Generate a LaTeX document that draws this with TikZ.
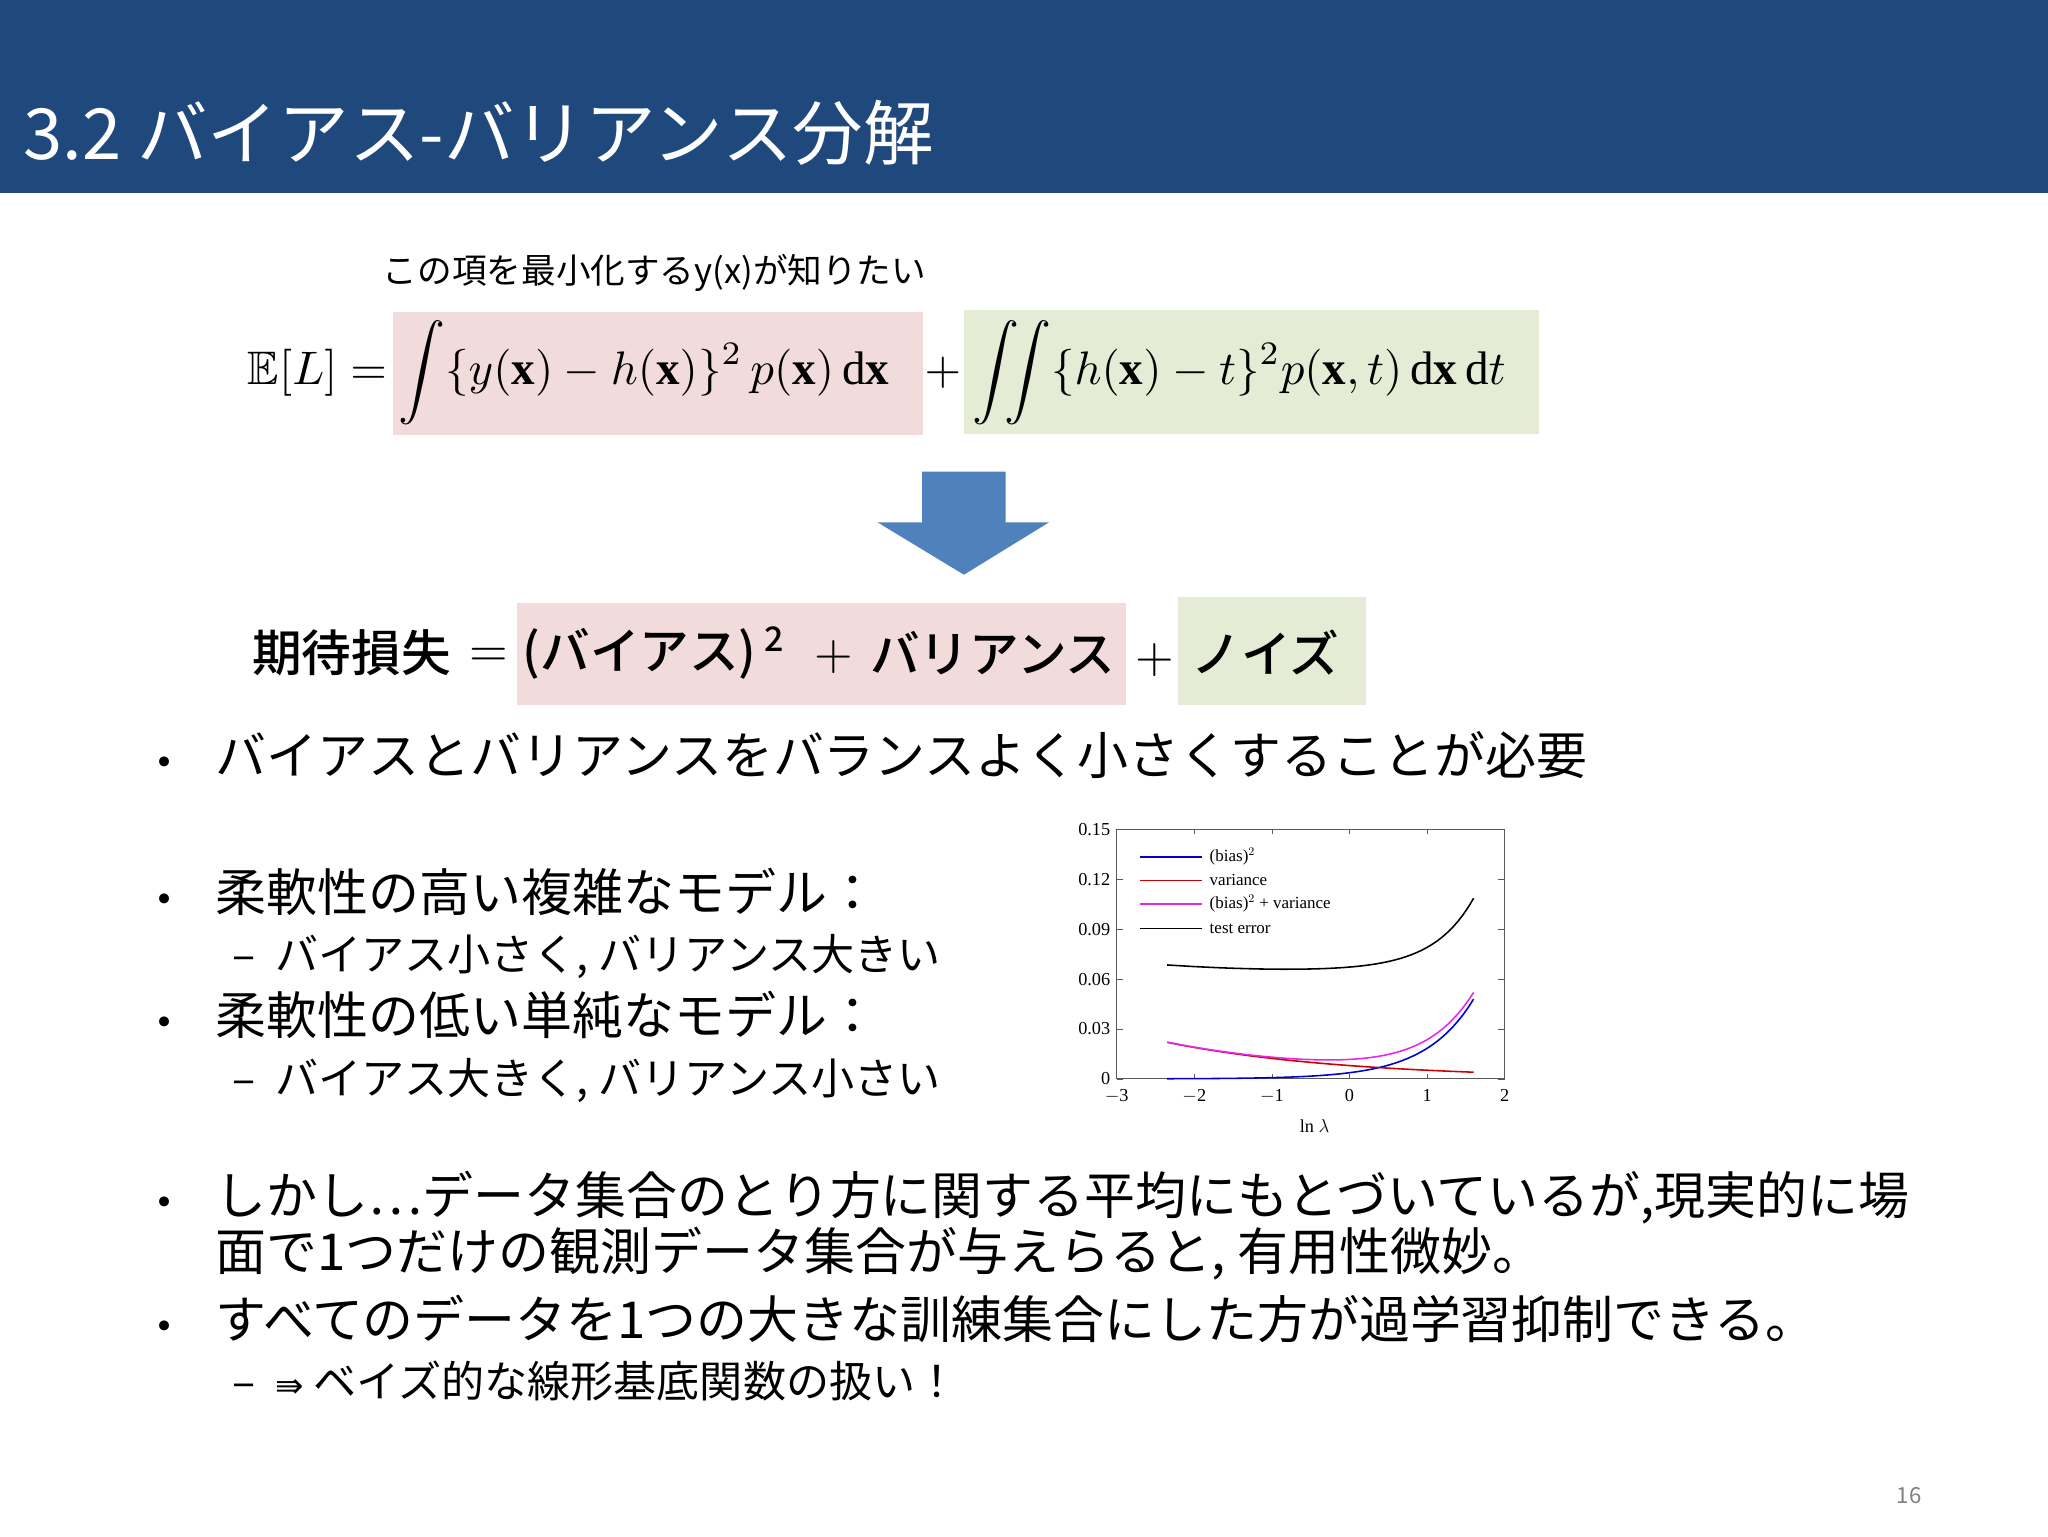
\documentclass[tikz,border=0pt]{standalone}
\usepackage{amsmath,amssymb}
\usepackage{fontspec}
\setmainfont{Liberation Serif}
\newfontfamily\jp{Noto Sans CJK JP}
\newfontfamily\jpb{Noto Sans CJK JP Medium}
\newfontfamily\tms{Liberation Serif}
\newfontfamily\dvs{DejaVu Sans}
\definecolor{titlebar}{RGB}{31,73,125}
\definecolor{pinkbox}{RGB}{242,220,219}
\definecolor{greenbox}{RGB}{228,236,214}
\definecolor{arrowblue}{RGB}{79,129,189}
\definecolor{mag}{RGB}{230,40,230}
\begin{document}
\begin{tikzpicture}[x=1pt,y=-1pt,
  body/.style={anchor=base west,inner sep=0pt,font=\jp\fontsize{39}{44}\selectfont},
  sub/.style={anchor=base west,inner sep=0pt,font=\jp\fontsize{33}{36}\selectfont},
  bul/.style={anchor=base west,inner sep=0pt,font=\dvs\fontsize{26}{36}\selectfont},
  mth/.style={inner sep=0pt,scale=3.6,transform shape},
  mth2/.style={inner sep=0pt,scale=3.8,transform shape},
  tick/.style={inner sep=0pt,font=\tms\fontsize{14}{16}\selectfont},
  leg/.style={anchor=west,inner sep=0pt,font=\tms\fontsize{13}{15}\selectfont}]
\useasboundingbox (0,0) rectangle (1568,1176);
\fill[white] (0,0) rectangle (1568,1176);
\fill[titlebar] (0,0) rectangle (1568,148);
\node[anchor=base west,inner sep=0pt,text=white,font=\jp\fontsize{54}{58}\selectfont] (title) at (18,122) {3.2 バイアス-バリアンス分解};
\node[anchor=base west,inner sep=0pt,font=\jp\fontsize{26.5}{28}\selectfont] (note) at (293,217) {この項を最小化するy(x)が知りたい};
\fill[pinkbox] (301,239) rectangle (707,333);
\fill[greenbox] (738,237) rectangle (1178,332);
\node[mth,anchor=east] (el) at (297,285) {$\mathbb{E}[L] =$};
\node[mth,anchor=west] (t1) at (304,285) {$\displaystyle\int \{y(\mathbf{x})-h(\mathbf{x})\}^2\,p(\mathbf{x})\,\mathrm{d}\mathbf{x}$};
\node[mth] (plus) at (722,285) {$+$};
\node[mth,anchor=west] (t2) at (744,285) {$\displaystyle\iint \{h(\mathbf{x})-t\}^2p(\mathbf{x},t)\,\mathrm{d}\mathbf{x}\,\mathrm{d}t$};
\fill[arrowblue] (706,361) -- (770,361) -- (770,400) -- (803,400) -- (738,440) -- (672,400) -- (706,400) -- cycle;
\coordinate (arr) at (738,400);
\fill[pinkbox] (396,462) rectangle (862,540);
\fill[greenbox] (902,457) rectangle (1046,540);
\node[anchor=west,inner sep=0pt,font=\jpb\fontsize{38}{44}\selectfont] (r2a) at (193,500) {期待損失};
\node[mth2] (r2eq) at (374,503) {$=$};
\node[anchor=west,inner sep=0pt,font=\jpb\fontsize{38}{44}\selectfont] (r2b) at (400,500) {(バイアス)\,\raisebox{14pt}{\fontsize{26}{28}\selectfont 2}};
\node[mth2] (r2p1) at (638,503) {$+$};
\node[anchor=west,inner sep=0pt,font=\jpb\fontsize{38}{44}\selectfont] (r2c) at (666,500) {バリアンス};
\node[mth2] (r2p) at (884,505) {$+$};
\node[anchor=west,inner sep=0pt,font=\jpb\fontsize{38}{44}\selectfont] (r2d) at (912,500) {ノイズ};
\foreach \y in {593,698,792,930,1025} \node[bul] at (118,\y) {•};
\node[body] (b1) at (165,593) {バイアスとバリアンスをバランスよく小さくすることが必要};
\node[body] (b2) at (165,698) {柔軟性の高い複雑なモデル：};
\node[sub] (s1) at (178,743) {–\ \ バイアス小さく, バリアンス大きい};
\node[body] (b3) at (165,792) {柔軟性の低い単純なモデル：};
\node[sub] (s2) at (178,838) {–\ \ バイアス大きく, バリアンス小さい};
\node[body] (b4) at (165,930) {しかし…データ集合のとり方に関する平均にもとづいているが,現実的に場};
\node[body] (b4b) at (165,973) {面で1つだけの観測データ集合が与えらると, 有用性微妙。};
\node[body] (b5) at (165,1025) {すべてのデータを1つの大きな訓練集合にした方が過学習抑制できる。};
\node[sub] (s3) at (178,1070) {–\ \ {\dvs\fontsize{26}{30}\selectfont ⇛} ベイズ的な線形基底関数の扱い！};
\node[anchor=base west,inner sep=0pt,text=gray,font=\jp\fontsize{17}{20}\selectfont] (pg) at (1452,1151) {16};
% chart
\begin{scope}[shift={(855,826)},x=59.4pt,y=1273pt]
\draw[gray!70!black,line width=0.8pt] (0,0) rectangle (5,0.15);
\foreach \v/\l in {0/0,0.03/0.03,0.06/0.06,0.09/0.09,0.12/0.12,0.15/0.15}{
  \draw[gray!70!black] (0,\v) -- (0.08,\v) (5,\v) -- (4.92,\v);
  \node[tick,anchor=east] at (-0.08,\v) {\l};}
\foreach \v/\l in {0/$-$3,1/$-$2,2/$-$1,3/0,4/1,5/2}{
  \draw[gray!70!black] (\v,0) -- (\v,0.003) (\v,0.15) -- (\v,0.147);
  \node[tick,anchor=north] at (\v,-0.006) {\l};}
\node[tick,anchor=north] (xl) at (2.55,-0.024) {ln $\lambda$};
\begin{scope}[shift={(3,0)}]
\draw[blue!80!black,line width=1.2pt,domain=-2.35:1.6,samples=60] plot (\x,{0.048*exp(1.6*(\x-1.6))});
\draw[red!80!black,line width=1.2pt,domain=-2.35:1.6,samples=60] plot (\x,{0.022*exp(-0.43*(\x+2.35))});
\draw[mag,line width=1.2pt,domain=-2.35:1.6,samples=60] plot (\x,{0.048*exp(1.6*(\x-1.6))+0.022*exp(-0.43*(\x+2.35))});
\draw[black,line width=1.2pt,domain=-2.35:1.6,samples=60] plot (\x,{0.0655+0.0008*(\x+0.4)^2+0.04*exp(2*(\x-1.6))});
\end{scope}
\end{scope}
\foreach \y/\c/\t in {656/blue!80!black/{(bias)$^2$},674/red!80!black/variance,692/mag/{(bias)$^2$ + variance},711/black/test error}{
  \draw[\c,line width=1.2pt] (873,\y) -- (920,\y);
  \node[leg] at (926,\y) {\t};}
\end{tikzpicture}
\end{document}
